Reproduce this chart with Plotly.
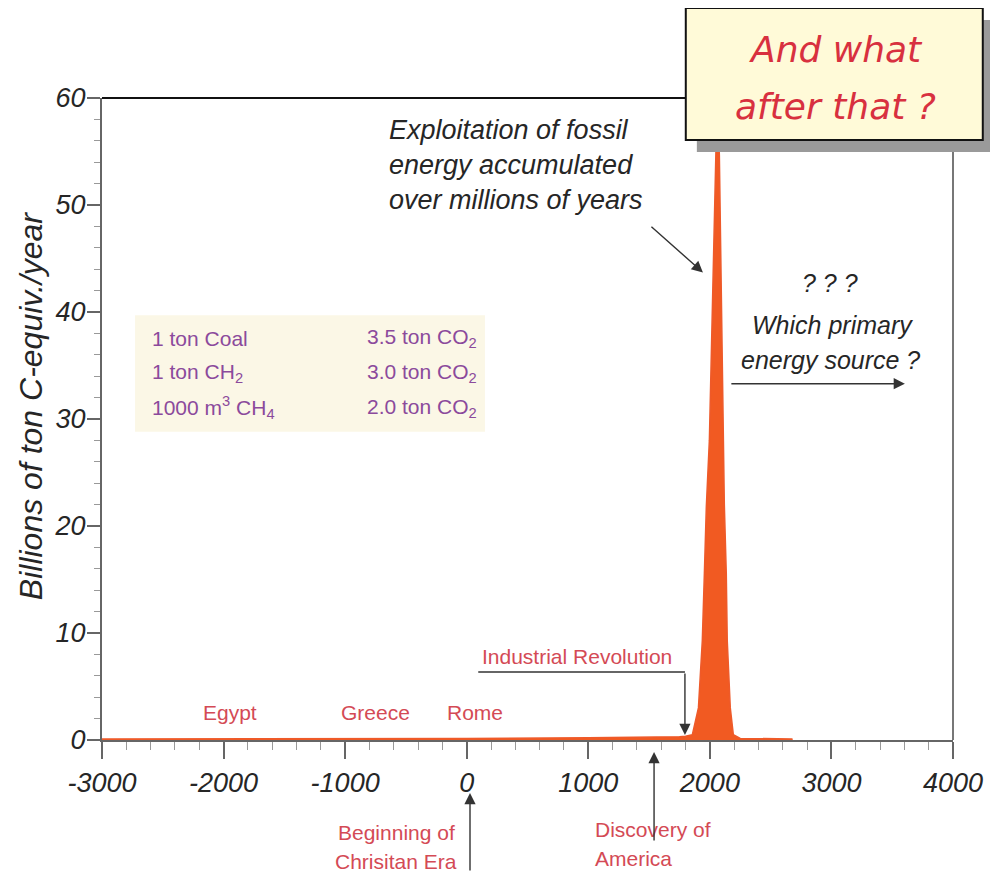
import plotly.graph_objects as go

# ---- data ----
years = [-3000, -2000, -1000, 0, 1000, 1500, 1750, 1800, 1856, 1906, 1938, 1955, 1971,
         1996, 2020, 2045, 2060, 2078, 2094, 2111, 2119, 2135, 2143, 2168, 2193, 2250, 2680]
emissions = [0.1, 0.1, 0.12, 0.15, 0.2, 0.25, 0.3, 0.35, 0.5, 3.0, 9.3, 15.6, 21.8,
             28.0, 40.0, 54.0, 60.0, 54.7, 41.0, 28.0, 22.0, 15.6, 9.3, 3.0, 0.5, 0.15, 0.1]

x_ticks = [-3000, -2000, -1000, 0, 1000, 2000, 3000, 4000]
x_tick_labels = ["-3000", "-2000", "-1000", "0", "1000", "2000", "3000", "4000"]
y_ticks = [0, 10, 20, 30, 40, 50, 60]
y_tick_labels = ["0", "10", "20", "30", "40", "50", "60"]
Y_MAX = 60

table_left = ["1 ton Coal", "1 ton CH<sub>2</sub>", "1000 m<sup>3</sup> CH<sub>4</sub>"]
table_right = ["3.5 ton CO<sub>2</sub>", "3.0 ton CO<sub>2</sub>", "2.0 ton CO<sub>2</sub>"]
table_rows_y = [37.57, 34.3, 31.03]

civilisations = ["Egypt", "Greece", "Rome"]
civ_years = [-1947, -754, 68]

FONT = "Liberation Sans"
RED = "#D44A55"
PURPLE = "#8B4A9C"
DARK = "#262626"

fig = go.Figure()
fig.add_trace(go.Scatter(
    x=years, y=emissions, mode="lines", fill="tozeroy",
    line=dict(color="#EE5A2A", width=1.5), fillcolor="#F15A22",
    hoverinfo="x+y", showlegend=False,
))

ann = []

def txt(x, y, text, size, color=DARK, xanchor="center", yanchor="middle", italic=False,
        family=FONT, xref="x", yref="y", align="center"):
    ann.append(dict(x=x, y=y, xref=xref, yref=yref, text=text, showarrow=False,
                    xanchor=xanchor, yanchor=yanchor, align=align,
                    font=dict(family=family, size=size, color=color,
                              style="italic" if italic else "normal")))

def arrow(x, y, ax, ay, head=2, color="#333333", yref="y"):
    ann.append(dict(x=x, y=y, xref="x", yref=yref, ax=ax, ay=ay, text="",
                    showarrow=True, arrowhead=head, arrowsize=1.6, arrowwidth=1.4,
                    arrowcolor=color))

# fossil-energy note
txt(-655, 53.7, "Exploitation of fossil<br>energy accumulated<br>over millions of years",
    27, xanchor="left", italic=True, align="left")
arrow(1943, 43.7, -53, -47)

# which primary energy source
txt(2988, 42.7, "? ? ?", 25, italic=True)
txt(3012, 38.8, "Which primary", 25, italic=True)
txt(2995, 35.5, "energy source ?", 25, italic=True)
arrow(3604, 33.3, -175, 0)

# conversion table
for l, r, yy in zip(table_left, table_right, table_rows_y):
    txt(-2604, yy, l, 21, color=PURPLE, xanchor="left")
    txt(-836, yy, r, 21, color=PURPLE, xanchor="left")

# civilisations
for name, yr in zip(civilisations, civ_years):
    txt(yr, 2.6, name, 21, color=RED)

# industrial revolution
txt(908, 7.85, "Industrial Revolution", 21, color=RED)
arrow(1795, 0.47, 0, -63)

# below-axis notes (values below 0 placed in paper units of the y range)
# beginning of christian era
txt(-581, -8.6 / Y_MAX, "Beginning of", 21, color=RED, yref="paper")
txt(-581, -11.4 / Y_MAX, "Chrisitan Era", 21, color=RED, yref="paper")
arrow(27, -4.95 / Y_MAX, 0, 79, yref="paper")

# discovery of america
txt(1039, -8.41 / Y_MAX, "Discovery of", 21, color=RED, xanchor="left", yref="paper")
txt(1039, -11.03 / Y_MAX, "America", 21, color=RED, xanchor="left", yref="paper")
arrow(1541, -1.12 / Y_MAX, 0, 90, yref="paper")

# callout
txt(0.8625, 1.0748, "And what", 36, color="#D8303F", italic=True, family="DejaVu Sans",
    xref="paper", yref="paper")
txt(0.8625, 0.986, "after that ?", 36, color="#D8303F", italic=True, family="DejaVu Sans",
    xref="paper", yref="paper")

# y title
ann.append(dict(x=-0.0834, y=0.52, xref="paper", yref="paper", showarrow=False,
                xanchor="center", yanchor="middle",
                text="Billions of ton C-equiv./year", textangle=-90,
                font=dict(family=FONT, size=32, color=DARK, style="italic")))

shapes = [
    # table background
    dict(type="rect", xref="x", yref="y", x0=-2728, x1=150, y0=28.8, y1=39.7,
         fillcolor="#FBF7E6", line=dict(width=0), layer="below"),
    # industrial revolution leader line
    dict(type="line", xref="x", yref="y", x0=95, x1=1795, y0=6.36, y1=6.36,
         line=dict(color="#333333", width=1.4)),
    # top border
    dict(type="line", xref="paper", yref="paper", x0=0, x1=0.69, y0=1, y1=1,
         line=dict(color="#111111", width=2)),
    # right border
    dict(type="line", xref="paper", yref="paper", x0=1, x1=1, y0=0, y1=1,
         line=dict(color="#777777", width=2)),
    # callout shadow
    dict(type="rect", xref="paper", yref="paper", x0=0.699, x1=1.049, y0=0.916, y1=1.1215,
         fillcolor="#9A9A9A", line=dict(width=0)),
    # callout box
    dict(type="rect", xref="paper", yref="paper", x0=0.686, x1=1.035, y0=0.9346, y1=1.140,
         fillcolor="#FFFAD8", line=dict(color="#111111", width=2)),
]

fig.update_layout(
    width=990, height=867,
    margin=dict(l=94, r=45, t=90, b=135),
    paper_bgcolor="white", plot_bgcolor="white",
    showlegend=False,
    annotations=ann, shapes=shapes,
    xaxis=dict(range=[-3000, 4000], tickvals=x_ticks, ticktext=x_tick_labels,
               showgrid=False, zeroline=False, showline=True, linecolor="#666666",
               linewidth=2, ticks="outside", ticklen=17, tickwidth=1.5, tickcolor="#666666",
               minor=dict(dtick=200, ticklen=8, tickcolor="#999999", tickwidth=1, ticks="outside"),
               tickfont=dict(family=FONT, size=27, color=DARK, style="italic"),
               ticklabelstandoff=1),
    yaxis=dict(range=[0, Y_MAX], tickvals=y_ticks, ticktext=y_tick_labels,
               showgrid=False, zeroline=False, showline=True, linecolor="#666666",
               linewidth=2, ticks="outside", ticklen=13, tickwidth=1.5, tickcolor="#666666",
               minor=dict(dtick=2, ticklen=6, tickcolor="#999999", tickwidth=1, ticks="outside"),
               tickfont=dict(family=FONT, size=27, color=DARK, style="italic"),
               ticklabelstandoff=-4),
)

fig.write_html("out.html")
